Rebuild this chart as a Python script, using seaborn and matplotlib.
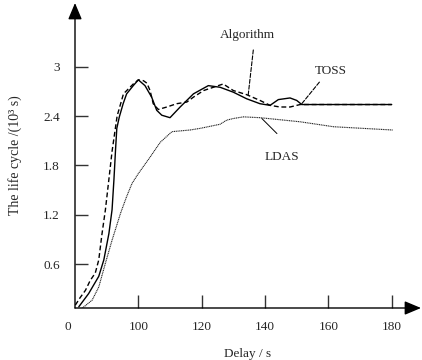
import matplotlib
matplotlib.use('Agg')
import matplotlib.pyplot as plt
import seaborn as sns
import pandas as pd

# ---- data ----
delay_toss = [81.2, 84.3, 87.5, 89.1, 90.7, 91.7, 92.3, 92.8, 93.2, 94.0, 95.2, 96.3, 98.4,
              100.0, 102.1, 104.2, 105.8, 107.4, 110.0, 113.2, 117.4, 122.1, 125.8, 130.0,
              134.2, 138.4, 141.6, 144.2, 147.9, 150.0, 151.6, 160.0, 170.0, 180.0]
life_toss = [0.08, 0.24, 0.45, 0.65, 0.97, 1.26, 1.63, 1.99, 2.25, 2.39, 2.55, 2.67, 2.77,
             2.84, 2.77, 2.63, 2.47, 2.41, 2.38, 2.51, 2.67, 2.77, 2.75, 2.69,
             2.61, 2.55, 2.53, 2.60, 2.62, 2.59, 2.54, 2.54, 2.54, 2.54]

delay_alg = [80.1, 81.6, 83.3, 84.8, 86.4, 87.5, 88.5, 89.6, 90.7, 91.7, 93.3, 95.3, 98.4,
             100.0, 101.6, 102.7, 103.7, 104.7, 106.3, 109.0, 112.1, 115.3, 117.4, 120.6,
             126.8, 130.0, 134.2, 138.4, 141.6, 144.7, 147.9, 151.1, 160.0, 170.0, 180.0]
life_alg = [0.10, 0.19, 0.28, 0.40, 0.49, 0.65, 0.96, 1.26, 1.63, 1.97, 2.40, 2.67, 2.79,
            2.84, 2.83, 2.80, 2.71, 2.55, 2.48, 2.51, 2.55, 2.57, 2.63, 2.71,
            2.79, 2.71, 2.66, 2.59, 2.53, 2.51, 2.51, 2.54, 2.54, 2.54, 2.54]

delay_ldas = [82.2, 85.4, 87.5, 89.6, 91.7, 94.4, 96.3, 98.0, 100.0, 103.7, 106.9, 110.6,
              116.3, 119.5, 125.8, 127.9, 130.0, 133.2, 138.4, 151.1, 161.6, 180.3]
life_ldas = [0.06, 0.16, 0.32, 0.61, 0.89, 1.22, 1.42, 1.58, 1.70, 1.90, 2.08, 2.21,
             2.23, 2.25, 2.30, 2.35, 2.37, 2.39, 2.38, 2.33, 2.27, 2.23]

x_ticks = [100, 120, 140, 160, 180]
x_tick_labels = ['100', '120', '140', '160', '180']
y_ticks = [0.6, 1.2, 1.8, 2.4, 3.0]
y_tick_labels = ['0.6', '1.2', '1.8', '2.4', '3']

# ---- style ----
sns.set_style('white')
plt.rcParams['font.family'] = ['Liberation Serif', 'DejaVu Serif']
plt.rcParams['font.size'] = 9.5

fig = plt.figure(figsize=(4.22, 3.60), dpi=100)
ax = fig.add_axes([75 / 422, 52 / 360, 346 / 422, 305 / 360])

sns.lineplot(x=delay_ldas, y=life_ldas, ax=ax, color='#222222', lw=0.8,
             linestyle=(0, (1, 0.6)), sort=False)
sns.lineplot(x=delay_toss, y=life_toss, ax=ax, color='black', lw=1.0, sort=False)
sns.lineplot(x=delay_alg, y=life_alg, ax=ax, color='black', lw=1.0,
             linestyle=(0, (3.5, 2)), sort=False)

ax.set_xlim(80.0, 189.25)
ax.set_ylim(0.065, 3.775)

for s in ax.spines.values():
    s.set_visible(False)

# axis lines with arrowheads
arrow_kw = dict(arrowstyle='-|>,head_length=1.0,head_width=0.42', color='black',
                lw=1.0, mutation_scale=10, shrinkA=0, shrinkB=0)
ax.annotate('', xy=(1, 0), xytext=(0, 0), xycoords='axes fraction',
            textcoords='axes fraction', arrowprops=arrow_kw, annotation_clip=False)
ax.annotate('', xy=(0, 1), xytext=(0, 0), xycoords='axes fraction',
            textcoords='axes fraction', arrowprops=arrow_kw, annotation_clip=False)

ax.set_xticks(x_ticks)
ax.set_xticklabels(x_tick_labels)
ax.set_yticks(y_ticks)
ax.set_yticklabels(y_tick_labels)
ax.tick_params(axis='both', direction='in', length=9.4, width=1.0, color='#333333',
               bottom=True, left=True, top=False, right=False)
ax.tick_params(axis='x', pad=9.5)
ax.tick_params(axis='y', pad=11)

# origin label "0"
ax.text(77.8, -0.061, '0', transform=ax.get_xaxis_transform(), ha='center', va='center',
        fontsize=9.5)

ax.set_xlabel('Delay / s', fontsize=9.5)
ax.xaxis.set_label_coords(0.5, -0.131)
ax.set_ylabel('The life cycle /(10³ s)', fontsize=10)
ax.yaxis.set_label_coords(-0.153, 0.5)

# labels with leader lines
lead_dash = dict(arrowstyle='-', color='black', lw=0.8, linestyle='--',
                 shrinkA=0, shrinkB=0)
lead_solid = dict(arrowstyle='-', color='black', lw=0.7, shrinkA=0, shrinkB=0)

ax.text(134.3, 3.385, 'Algorithm', ha='center', va='center', fontsize=9.5)
ax.annotate(' ', xy=(134.7, 2.66), xytext=(136.1, 3.28), xycoords='data',
            textcoords='data', arrowprops=lead_dash, annotation_clip=False)
ax.text(160.8, 2.95, 'TOSS', ha='center', va='center', fontsize=9.5)
ax.annotate(' ', xy=(151.6, 2.55), xytext=(158.2, 2.85), xycoords='data',
            textcoords='data', arrowprops=lead_dash, annotation_clip=False)
ax.text(145.4, 1.905, 'LDAS', ha='center', va='center', fontsize=9.5)
ax.annotate(' ', xy=(139.0, 2.37), xytext=(144.8, 2.09), xycoords='data',
            textcoords='data', arrowprops=lead_solid, annotation_clip=False)

fig.savefig('out.png', dpi=100)
